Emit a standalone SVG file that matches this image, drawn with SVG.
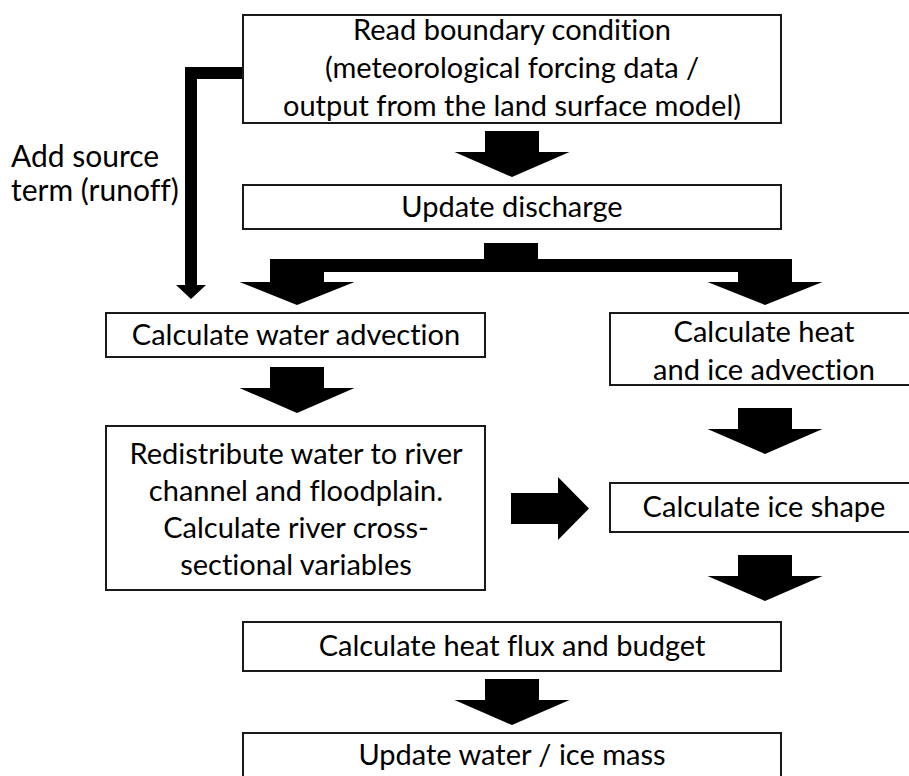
<svg xmlns="http://www.w3.org/2000/svg" width="909" height="776" viewBox="0 0 909 776">
  <style>
    .box { fill: #ffffff; stroke: #1a1a1a; stroke-width: 2; }
    .lbl { font-family: Lato, "Open Sans", "Liberation Sans", sans-serif; font-size: 29px; fill: #000000; text-anchor: middle; font-variant-ligatures: none; }
    .side { font-family: Lato, "Open Sans", "Liberation Sans", sans-serif; font-size: 30px; fill: #000000; font-variant-ligatures: none; }
    .arrow { fill: #000000; stroke: none; }
  </style>
  <defs>
    <!-- block arrow pointing down, tip at origin -->
    <polygon id="down" points="-27,-46 27,-46 27,-25 57.5,-25 0,0 -57.5,-25 -27,-25"/>
  </defs>

  <rect width="909" height="776" fill="#ffffff"/>

  <g id="connectors" class="arrow">
    <use href="#down" x="512" y="177"/>
    <!-- split from discharge update to both branches -->
    <polygon points="484,243 538,243 538,259 792,259 792,282 822.5,282 765,305 707.5,282 738,282 738,272 324,272 324,282 354.5,282 297,305 239.5,282 270,282 270,259 484,259"/>
    <!-- runoff source term from boundary condition -->
    <polygon points="243,67 185,67 185,285 176,285 191,299 206,285 197,285 197,79 243,79"/>
    <use href="#down" x="297" y="413"/>
    <use href="#down" x="765" y="454"/>
    <use href="#down" x="765" y="601"/>
    <use href="#down" x="512" y="725"/>
    <!-- redistribution feeds ice shape -->
    <polygon points="511,493 558,493 558,477 589,508.5 558,540 558,524 511,524"/>
  </g>

  <g id="read-boundary">
    <rect class="box" x="243" y="15" width="538" height="108"/>
    <text class="lbl" x="512" y="40">Read boundary condition</text>
    <text class="lbl" x="512" y="78">(meteorological forcing data /</text>
    <text class="lbl" x="512" y="116">output from the land surface model)</text>
  </g>

  <g id="source-term">
    <text class="side" x="11" y="167">Add source</text>
    <text class="side" x="11" y="201">term (runoff)</text>
  </g>

  <g id="update-discharge">
    <rect class="box" x="243" y="185" width="538" height="44"/>
    <text class="lbl" x="512" y="217">Update discharge</text>
  </g>

  <g id="water-advection">
    <rect class="box" x="106" y="313" width="379" height="44"/>
    <text class="lbl" x="296" y="345">Calculate water advection</text>
  </g>

  <g id="heat-ice-advection">
    <rect class="box" x="610" y="313" width="310" height="72"/>
    <text class="lbl" x="764" y="342">Calculate heat</text>
    <text class="lbl" x="764" y="380">and ice advection</text>
  </g>

  <g id="redistribute">
    <rect class="box" x="106" y="426" width="379" height="164"/>
    <text class="lbl" x="296" y="464">Redistribute water to river</text>
    <text class="lbl" x="296" y="501">channel and floodplain.</text>
    <text class="lbl" x="296" y="538">Calculate river cross-</text>
    <text class="lbl" x="296" y="575">sectional variables</text>
  </g>

  <g id="ice-shape">
    <rect class="box" x="610" y="483" width="310" height="49"/>
    <text class="lbl" x="764" y="517">Calculate ice shape</text>
  </g>

  <g id="heat-flux">
    <rect class="box" x="243" y="622" width="538" height="49"/>
    <text class="lbl" x="512" y="656">Calculate heat flux and budget</text>
  </g>

  <g id="update-mass">
    <rect class="box" x="243" y="733" width="538" height="60"/>
    <text class="lbl" x="512" y="765">Update water / ice mass</text>
  </g>
</svg>
